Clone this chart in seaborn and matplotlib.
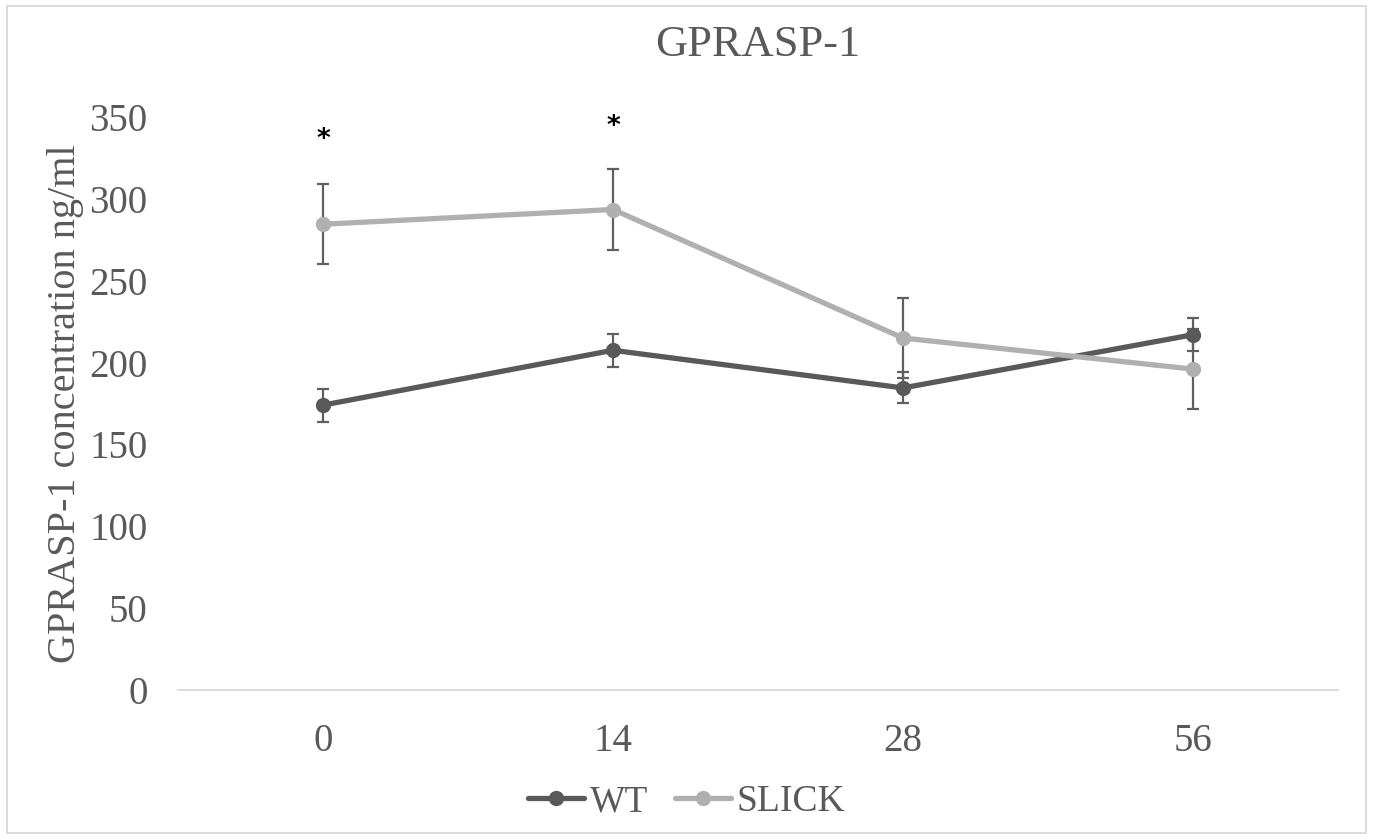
import numpy as np
import pandas as pd
import seaborn as sns
import matplotlib.pyplot as plt
from matplotlib.patches import Rectangle

days = ["0", "14", "28", "56"]
wt_mean = [174, 207.5, 184.5, 217]
wt_err = [10, 10, 9.5, 10]
slick_mean = [284.5, 293.5, 215, 196]
slick_err = [24.5, 24.5, 24.5, 24.5]
stars = ["*", "*", "", ""]
star_y = [336, 344, 0, 0]

sns.set_theme(style="white")
plt.rcParams["font.family"] = ["Liberation Serif", "DejaVu Serif"]

df = pd.DataFrame({
    "day": list(range(len(days))) * 2,
    "conc": wt_mean + slick_mean,
    "group": ["WT"] * len(days) + ["SLICK"] * len(days),
})
colors = {"WT": "#595959", "SLICK": "#b0b0b0"}

fig = plt.figure(figsize=(13.73, 8.4), dpi=100)
ax = fig.add_axes([0.1296, 0.1786, 0.8449, 0.6821])

for grp, err in [("WT", wt_err), ("SLICK", slick_err)]:
    sub = df[df["group"] == grp]
    ax.errorbar(sub["day"], sub["conc"], yerr=err, fmt="none",
                ecolor="#5f5f5f", elinewidth=1.6, capsize=4.5, capthick=1.6, zorder=2)

sns.lineplot(data=df, x="day", y="conc", hue="group", palette=colors,
             marker="o", markersize=11, markeredgewidth=0, linewidth=3.8,
             ax=ax, zorder=3)

# significance marks
for i, s in enumerate(stars):
    if s:
        ax.text(i, star_y[i], s, ha="center", va="center", fontsize=19,
                fontweight="bold", color="black", family="DejaVu Sans")

ax.set_xlim(-0.5, 3.5)
ax.set_ylim(0, 350)
ax.set_xticks(range(len(days)))
ax.set_xticklabels(days)
ax.set_yticks(range(0, 351, 50))
ax.tick_params(axis="both", length=0, labelsize=28, labelcolor="#595959")
ax.tick_params(axis="x", pad=24)
ax.tick_params(axis="y", pad=22)
for side in ["top", "right", "left"]:
    ax.spines[side].set_visible(False)
ax.spines["bottom"].set_color("#d9d9d9")
ax.spines["bottom"].set_linewidth(1.3)
ax.set_xlabel("")
ax.set_ylabel("GPRASP-1 concentration ng/ml", fontsize=29, color="#595959", labelpad=4)
ax.set_title("GPRASP-1", fontsize=32, color="#595959", pad=44)

handles, labels = ax.get_legend_handles_labels()
ax.get_legend().remove()
fig.legend(handles, labels, loc="center", bbox_to_anchor=(0.5, 0.045), ncol=2,
           frameon=False, fontsize=27, labelcolor="#595959", handlelength=1.5,
           handletextpad=0.15, columnspacing=0.7, borderaxespad=0)

fig.patches.append(Rectangle((0.005, 0.008), 0.99, 0.985, transform=fig.transFigure,
                             fill=False, edgecolor="#d9d9d9", linewidth=1.3))

fig.savefig("out.png", dpi=100)
